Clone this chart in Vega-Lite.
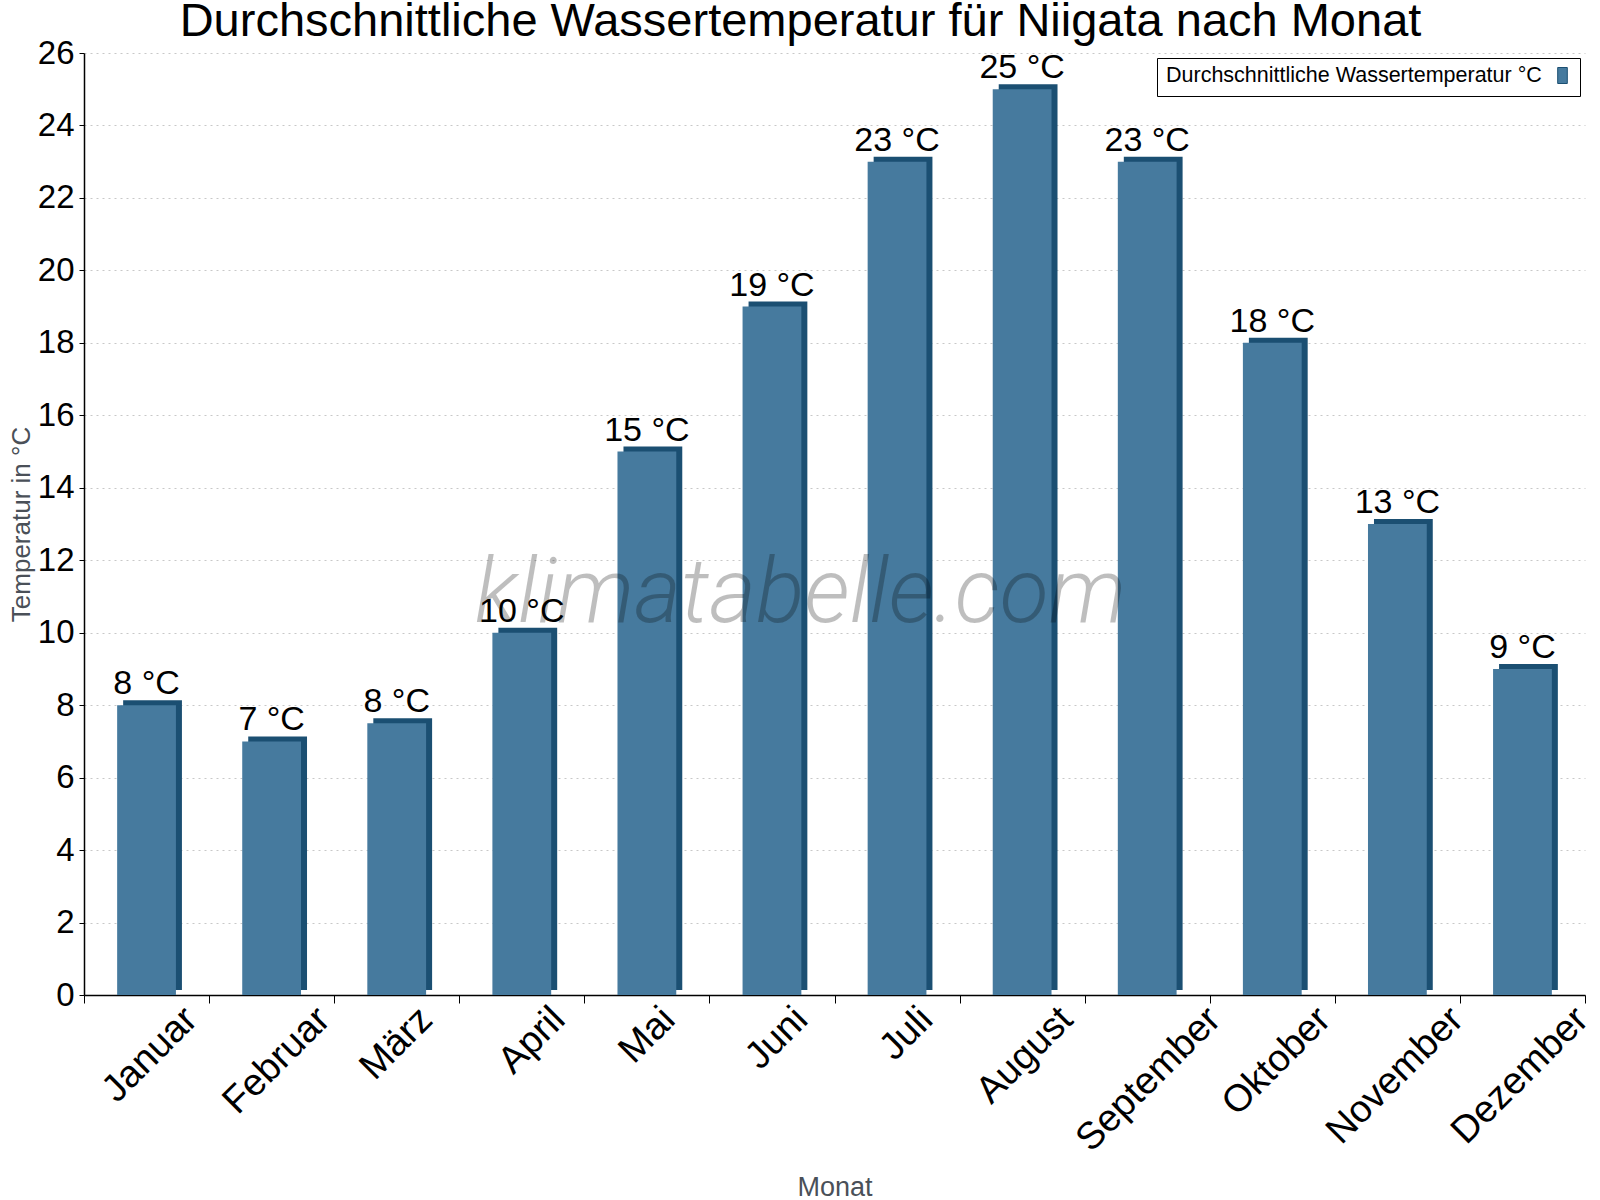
{
  "$schema": "https://vega.github.io/schema/vega-lite/v6.json",
  "autosize": {"type": "none"},
  "width": 1501,
  "height": 942,
  "padding": {"left": 84, "top": 53, "right": 15, "bottom": 205},
  "background": "#ffffff",
  "title": {
    "text": "Durchschnittliche Wassertemperatur für Niigata nach Monat",
    "font": "Liberation Sans",
    "fontSize": 47,
    "fontWeight": "normal",
    "color": "#000000",
    "anchor": "middle",
    "dx": -34,
    "offset": -9
  },
  "config": {
    "view": {"stroke": null},
    "font": "Liberation Sans"
  },
  "data": {
    "values": [
      {"Monat": "Januar", "Temp": 8, "Label": "8 °C"},
      {"Monat": "Februar", "Temp": 7, "Label": "7 °C"},
      {"Monat": "März", "Temp": 7.5, "Label": "8 °C"},
      {"Monat": "April", "Temp": 10, "Label": "10 °C"},
      {"Monat": "Mai", "Temp": 15, "Label": "15 °C"},
      {"Monat": "Juni", "Temp": 19, "Label": "19 °C"},
      {"Monat": "Juli", "Temp": 23, "Label": "23 °C"},
      {"Monat": "August", "Temp": 25, "Label": "25 °C"},
      {"Monat": "September", "Temp": 23, "Label": "23 °C"},
      {"Monat": "Oktober", "Temp": 18, "Label": "18 °C"},
      {"Monat": "November", "Temp": 13, "Label": "13 °C"},
      {"Monat": "Dezember", "Temp": 9, "Label": "9 °C"}
    ]
  },
  "encoding": {
    "x": {
      "field": "Monat",
      "type": "nominal",
      "sort": null,
      "scale": {"paddingInner": 0, "paddingOuter": 0},
      "title": "Monat",
      "axis": {
        "tickBand": "extent",
        "domainColor": "#000000",
        "domainWidth": 1.5,
        "tickColor": "#000000",
        "tickSize": 8,
        "labelAngle": -45,
        "labelAlign": "right",
        "labelBaseline": "top",
        "labelFontSize": 38,
        "labelColor": "#000000",
        "labelPadding": -3,
        "labelLimit": 400,
        "labelOffset": {"expr": "length(datum.label) * 7.5 - 14"},
        "titleFontSize": 27,
        "titleFontWeight": "normal",
        "titleColor": "#4a5058",
        "titlePadding": 16
      }
    },
    "y": {
      "field": "Temp",
      "type": "quantitative",
      "scale": {"domain": [0, 26], "nice": false},
      "title": "Temperatur in °C",
      "axis": {
        "values": [0, 2, 4, 6, 8, 10, 12, 14, 16, 18, 20, 22, 24, 26],
        "domainColor": "#000000",
        "domainWidth": 1.5,
        "tickColor": "#000000",
        "tickSize": 5,
        "labelFontSize": 33,
        "labelColor": "#000000",
        "labelPadding": 5,
        "grid": true,
        "gridColor": "#c8c8c8",
        "gridDash": [2, 4],
        "titleFontSize": 26,
        "titleFontWeight": "normal",
        "titleColor": "#4a5058",
        "titlePadding": 3
      }
    }
  },
  "layer": [
    {
      "mark": {
        "type": "bar",
        "color": "#1b4f72",
        "width": {"band": 0.47},
        "xOffset": 6,
        "yOffset": -5
      }
    },
    {
      "mark": {"type": "bar", "width": {"band": 0.47}},
      "encoding": {
        "color": {
          "datum": "Durchschnittliche Wassertemperatur °C",
          "type": "nominal",
          "scale": {"range": ["#467a9e"]},
          "legend": {
            "title": "Durchschnittliche Wassertemperatur °C",
            "titleOrient": "left",
            "titleFontSize": 21.5,
            "titleFontWeight": "normal",
            "titleColor": "#000000",
            "titleFont": "Liberation Sans",
            "titlePadding": 12,
            "titleLimit": 600,
            "orient": "top-right",
            "offset": 5,
            "strokeColor": "#000000",
            "fillColor": "#ffffff",
            "padding": 9,
            "labelExpr": "''",
            "labelOffset": 0,
            "labelFontSize": 1,
            "symbolType": "M-0.6,-1H0.6V1H-0.6Z",
            "symbolSize": 256,
            "symbolStrokeColor": "#1b4f72",
            "symbolStrokeWidth": 1
          }
        }
      }
    },
    {
      "mark": {
        "type": "text",
        "fontSize": 34,
        "color": "#000000",
        "baseline": "alphabetic",
        "dy": -11
      },
      "encoding": {
        "text": {"field": "Label"}
      }
    },
    {
      "data": {"values": [{"wm": "klimatabelle.com", "pos": 10.3}]},
      "mark": {
        "type": "text",
        "font": "Roboto",
        "fontSize": 90,
        "fontWeight": 300,
        "fontStyle": "italic",
        "color": "#000000",
        "opacity": 0.25,
        "baseline": "alphabetic",
        "align": "center",
        "dx": -34
      },
      "encoding": {
        "x": null,
        "y": {"field": "pos", "type": "quantitative"},
        "text": {"field": "wm"}
      }
    }
  ]
}
